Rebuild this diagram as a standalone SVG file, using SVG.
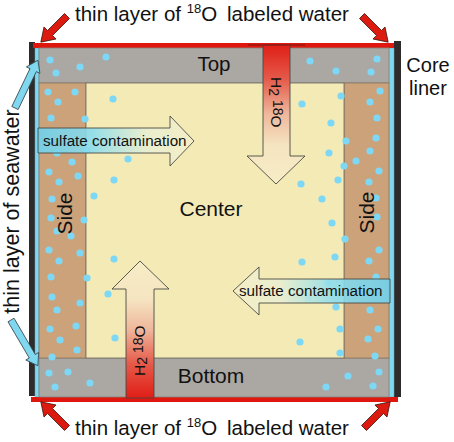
<svg xmlns="http://www.w3.org/2000/svg" width="454" height="442" viewBox="0 0 454 442">
<style>
text{font-family:"Liberation Sans",Arial,Helvetica,sans-serif;fill:#111}
.band{fill:#aba7a3;stroke:#858079;stroke-width:0.8}
.side{fill:#cca27a;stroke:#8a7660;stroke-width:0.8}
.ctr{fill:#f3eab6;stroke:#6e6a5e;stroke-width:0.8}
.liner{fill:#2f2b2b}
.sea{fill:#7fd7f0;stroke:#5aa9c0;stroke-width:0.5}
.redline{fill:#e0170f}
.dot{fill:#7dd8f5}
.redarrow{fill:#dd1a10;stroke:#3a1a14;stroke-width:0.8}
.bluearrow{fill:#7fd7f0;stroke:#3c4a50;stroke-width:0.8}
.bigarrow{stroke:#4a4a44;stroke-width:0.9}
</style>
<defs>
<linearGradient id="gDown" x1="0" y1="44" x2="0" y2="184" gradientUnits="userSpaceOnUse">
<stop offset="0" stop-color="#e01d16"/>
<stop offset="0.25" stop-color="#e45a4a"/>
<stop offset="0.5" stop-color="#efb79c"/>
<stop offset="0.72" stop-color="#f5e4c0"/>
<stop offset="1" stop-color="#f6edc6"/>
</linearGradient>
<linearGradient id="gUp" x1="0" y1="398" x2="0" y2="261" gradientUnits="userSpaceOnUse">
<stop offset="0" stop-color="#e01d16"/>
<stop offset="0.25" stop-color="#e45a4a"/>
<stop offset="0.5" stop-color="#efb79c"/>
<stop offset="0.72" stop-color="#f5e4c0"/>
<stop offset="1" stop-color="#f6edc6"/>
</linearGradient>
<linearGradient id="gRight" x1="38" y1="0" x2="194" y2="0" gradientUnits="userSpaceOnUse">
<stop offset="0" stop-color="#6dd3ef"/>
<stop offset="0.35" stop-color="#8adcee"/>
<stop offset="0.7" stop-color="#e9efd2"/>
<stop offset="1" stop-color="#f5eec8"/>
</linearGradient>
<linearGradient id="gLeft" x1="390" y1="0" x2="233" y2="0" gradientUnits="userSpaceOnUse">
<stop offset="0" stop-color="#6dd3ef"/>
<stop offset="0.35" stop-color="#8adcee"/>
<stop offset="0.7" stop-color="#e9efd2"/>
<stop offset="1" stop-color="#f5eec8"/>
</linearGradient>
<path id="redA" d="M0,-3.5 L24,-3.5 L24,-8.5 L37,0 L24,8.5 L24,3.5 L0,3.5 Z"/>
<path id="blueA" d="M0,-3.5 L42,-3.5 L42,-7.5 L53,0 L42,7.5 L42,3.5 L0,3.5 Z"/>
</defs>

<g id="core-liner">
<rect class="liner" x="29" y="42" width="6" height="354"/>
<rect class="liner" x="394" y="41" width="7" height="356"/>
</g>
<g id="seawater-layer">
<rect class="sea" x="35" y="48" width="4" height="349"/>
<rect class="sea" x="389" y="48" width="5" height="349"/>
</g>
<g id="labeled-water-layer">
<rect class="redline" x="33" y="43" width="361" height="5"/>
<rect class="redline" x="31" y="397" width="367" height="5"/>
</g>
<g id="top"><rect class="band" x="39" y="48" width="350" height="35"/><text x="214" y="71" font-size="20.5" text-anchor="middle">Top</text></g>
<g id="bottom"><rect class="band" x="39" y="358" width="350" height="39"/><text x="211" y="383" font-size="21" text-anchor="middle">Bottom</text></g>
<g id="side-left"><rect class="side" x="39" y="83" width="47" height="275"/></g>
<g id="side-right"><rect class="side" x="344" y="83" width="45" height="275"/></g>
<g id="center"><rect class="ctr" x="86" y="83" width="258" height="275"/></g>

<g id="dots">
<circle class="dot" cx="50" cy="60" r="3.6"/><circle class="dot" cx="56" cy="73" r="3.6"/><circle class="dot" cx="80" cy="67" r="3.6"/><circle class="dot" cx="106" cy="57" r="3.6"/><circle class="dot" cx="48" cy="92" r="3.6"/><circle class="dot" cx="75" cy="92" r="3.6"/><circle class="dot" cx="58" cy="102" r="3.6"/><circle class="dot" cx="113" cy="99" r="3.6"/><circle class="dot" cx="51" cy="118" r="3.6"/><circle class="dot" cx="85" cy="119" r="3.6"/>
<circle class="dot" cx="310" cy="61" r="3.6"/><circle class="dot" cx="336" cy="71" r="3.6"/><circle class="dot" cx="377" cy="59" r="3.6"/><circle class="dot" cx="371" cy="72" r="3.6"/><circle class="dot" cx="380" cy="91" r="3.6"/><circle class="dot" cx="341" cy="96" r="3.6"/><circle class="dot" cx="370" cy="102" r="3.6"/><circle class="dot" cx="302" cy="104" r="3.6"/><circle class="dot" cx="377" cy="118" r="3.6"/><circle class="dot" cx="331" cy="123" r="3.6"/><circle class="dot" cx="346" cy="141" r="3.6"/><circle class="dot" cx="376" cy="138" r="3.6"/><circle class="dot" cx="370" cy="151" r="3.6"/>
<circle class="dot" cx="57" cy="153" r="3.6"/><circle class="dot" cx="72" cy="162" r="3.6"/><circle class="dot" cx="49" cy="172" r="3.6"/><circle class="dot" cx="78" cy="176" r="3.6"/><circle class="dot" cx="59" cy="182" r="3.6"/><circle class="dot" cx="128" cy="159" r="3.6"/><circle class="dot" cx="114" cy="180" r="3.6"/><circle class="dot" cx="94" cy="196" r="3.6"/><circle class="dot" cx="52" cy="199" r="3.6"/><circle class="dot" cx="51" cy="218" r="3.6"/><circle class="dot" cx="84" cy="220" r="3.6"/><circle class="dot" cx="57" cy="231" r="3.6"/><circle class="dot" cx="71" cy="236" r="3.6"/><circle class="dot" cx="49" cy="250" r="3.6"/><circle class="dot" cx="80" cy="253" r="3.6"/><circle class="dot" cx="59" cy="261" r="3.6"/><circle class="dot" cx="114" cy="259" r="3.6"/><circle class="dot" cx="51" cy="277" r="3.6"/><circle class="dot" cx="87" cy="278" r="3.6"/><circle class="dot" cx="108" cy="294" r="3.6"/><circle class="dot" cx="52" cy="297" r="3.6"/><circle class="dot" cx="87" cy="150" r="3.6"/>
<circle class="dot" cx="329" cy="153" r="3.6"/><circle class="dot" cx="288" cy="163" r="3.6"/><circle class="dot" cx="344" cy="166" r="3.6"/><circle class="dot" cx="356" cy="161" r="3.6"/><circle class="dot" cx="379" cy="171" r="3.6"/><circle class="dot" cx="301" cy="184" r="3.6"/><circle class="dot" cx="338" cy="180" r="3.6"/><circle class="dot" cx="369" cy="182" r="3.6"/><circle class="dot" cx="322" cy="199" r="3.6"/><circle class="dot" cx="376" cy="198" r="3.6"/><circle class="dot" cx="332" cy="223" r="3.6"/><circle class="dot" cx="377" cy="217" r="3.6"/><circle class="dot" cx="345" cy="239" r="3.6"/><circle class="dot" cx="379" cy="250" r="3.6"/><circle class="dot" cx="335" cy="257" r="3.6"/><circle class="dot" cx="369" cy="261" r="3.6"/><circle class="dot" cx="302" cy="262" r="3.6"/><circle class="dot" cx="376" cy="277" r="3.6"/><circle class="dot" cx="328" cy="283" r="3.6"/><circle class="dot" cx="308" cy="298" r="3.6"/>
<circle class="dot" cx="57" cy="310" r="3.6"/><circle class="dot" cx="80" cy="303" r="3.6"/><circle class="dot" cx="50" cy="329" r="3.6"/><circle class="dot" cx="76" cy="326" r="3.6"/><circle class="dot" cx="60" cy="340" r="3.6"/><circle class="dot" cx="77" cy="350" r="3.6"/><circle class="dot" cx="52" cy="357" r="3.6"/><circle class="dot" cx="115" cy="338" r="3.6"/><circle class="dot" cx="49" cy="373" r="3.6"/><circle class="dot" cx="68" cy="372" r="3.6"/><circle class="dot" cx="55" cy="387" r="3.6"/><circle class="dot" cx="90" cy="383" r="3.6"/>
<circle class="dot" cx="336" cy="307" r="3.6"/><circle class="dot" cx="370" cy="310" r="3.6"/><circle class="dot" cx="378" cy="329" r="3.6"/><circle class="dot" cx="340" cy="329" r="3.6"/><circle class="dot" cx="368" cy="339" r="3.6"/><circle class="dot" cx="300" cy="342" r="3.6"/><circle class="dot" cx="340" cy="353" r="3.6"/><circle class="dot" cx="375" cy="356" r="3.6"/><circle class="dot" cx="379" cy="372" r="3.6"/><circle class="dot" cx="348" cy="376" r="3.6"/><circle class="dot" cx="373" cy="386" r="3.6"/><circle class="dot" cx="326" cy="387" r="3.6"/>
</g>

<g id="labels">
<text x="211" y="216" font-size="21" text-anchor="middle">Center</text>
<text transform="translate(71.5,213.5) rotate(-90)" font-size="21" text-anchor="middle">Side</text>
<text transform="translate(374,212.5) rotate(-90)" font-size="21" text-anchor="middle">Side</text>
<text font-size="20" text-anchor="middle"><tspan x="428" y="72">Core</tspan><tspan x="428" y="95">liner</tspan></text>
<text transform="translate(18.5,211.5) rotate(-90)" font-size="21.5" text-anchor="middle">thin layer of seawater</text>
<text x="75" y="21" font-size="20.5">thin layer of <tspan font-size="13" dy="-8">18</tspan><tspan dy="8">O</tspan><tspan x="227">labeled water</tspan></text>
<text x="75" y="435" font-size="20.5">thin layer of <tspan font-size="13" dy="-8">18</tspan><tspan dy="8">O</tspan><tspan x="227">labeled water</tspan></text>
</g>

<g id="connectors">
<path class="bigarrow" fill="url(#gDown)" d="M263,45 L290,45 L290,156 L305,156 L276,184 L247,156 L263,156 Z"/>
<line x1="248" y1="45" x2="305" y2="45" stroke="#9a1a12" stroke-width="1.5"/>
<text transform="translate(271,77) rotate(90)" font-size="15.5">H<tspan font-size="14" dy="2">2</tspan><tspan font-size="14" dy="-4"> 18</tspan><tspan dy="2">O</tspan></text>
<path class="bigarrow" fill="url(#gUp)" d="M126,398 L154,398 L154,289 L169,289 L140,261 L112,289 L126,289 Z"/>
<text transform="translate(145,376) rotate(-90)" font-size="15.5">H<tspan font-size="14" dy="2">2</tspan><tspan font-size="14" dy="-4"> 18</tspan><tspan dy="2">O</tspan></text>
<path class="bigarrow" fill="url(#gRight)" fill-opacity="0.88" d="M38,128 L170,128 L170,116 L194,141 L170,166 L170,153 L38,153 Z"/>
<text x="43" y="145.5" font-size="15.2">sulfate contamination</text>
<path class="bigarrow" fill="url(#gLeft)" fill-opacity="0.88" d="M390,279 L259,279 L259,267 L233,291 L259,315 L259,303 L390,303 Z"/>
<text x="239" y="295.5" font-size="15.2">sulfate contamination</text>
<use href="#redA" class="redarrow" transform="translate(67,16) rotate(135)"/>
<use href="#redA" class="redarrow" transform="translate(362,16) rotate(45)"/>
<use href="#redA" class="redarrow" transform="translate(67,428) rotate(-135)"/>
<use href="#redA" class="redarrow" transform="translate(364,428) rotate(-45)"/>
<use href="#blueA" class="bluearrow" transform="translate(15,108) rotate(-64.4)"/>
<use href="#blueA" class="bluearrow" transform="translate(11,320) rotate(59.6)"/>
</g>
</svg>
